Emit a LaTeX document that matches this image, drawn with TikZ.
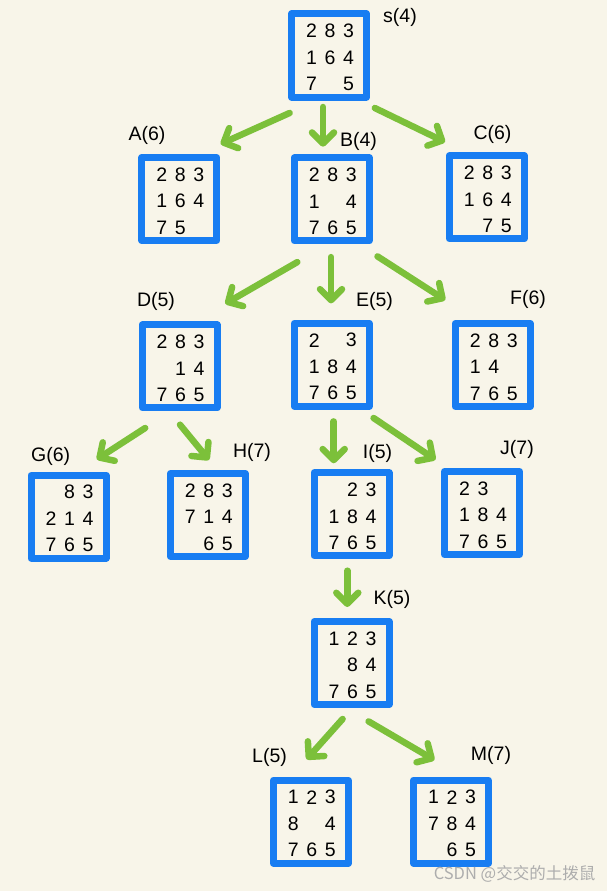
\documentclass[tikz,border=0pt]{standalone}
\usepackage{fontspec}
\setmainfont{Liberation Sans}
\newfontfamily\cjk{Noto Sans CJK SC}
\usetikzlibrary{arrows.meta}

\definecolor{paper}{RGB}{248,245,233}
\definecolor{boxblue}{RGB}{24,125,242}
\definecolor{arrgreen}{RGB}{124,192,58}

\tikzset{
  board/.style={draw=boxblue, line width=7pt, line join=round, minimum width=75pt, minimum height=83pt, inner sep=0pt},
  digit/.style={font=\fontsize{19.5}{19.5}\selectfont, inner sep=0pt},
  tag/.style={font=\fontsize{19.5}{19.5}\selectfont, inner sep=0pt},
  arr/.style={draw=arrgreen, line width=6.5pt, line cap=round, -{Straight Barb[length=11pt,width=22pt,round]}},
}

% 3x3 tiles of one board, row by row
\newcommand{\tiles}[4]{%
  \foreach \row [count=\r from 0] in {{#2},{#3},{#4}}{%
    \foreach \d [count=\c from 0] in \row{%
      \node[digit] (#1\r\c) at ([shift={(\c*18.5-17.5,\r*26.5-24.5)}]#1.center) {\d};}}}

\begin{document}
\begin{tikzpicture}[x=1pt,y=-1pt]
\fill[paper] (0,0) rectangle (607,891);

% boards
\node[board] (s) at (329,55.5) {};
\node[board] (A) at (179.3,199) {};
\node[board] (B) at (331.7,199.4) {};
\node[board] (C) at (486.7,197.3) {};
\node[board] (D) at (179.6,366.4) {};
\node[board] (E) at (331.7,364.7) {};
\node[board] (F) at (492.7,365) {};
\node[board] (G) at (68.5,516.7) {};
\node[board] (H) at (207.8,515) {};
\node[board] (I) at (351.5,514.3) {};
\node[board] (J) at (482,513) {};
\node[board] (K) at (351.5,663) {};
\node[board] (L) at (310.9,821.7) {};
\node[board] (M) at (451,821.7) {};

\tiles{s}{2,8,3}{1,6,4}{7,{},5}
\tiles{A}{2,8,3}{1,6,4}{7,5,{}}
\tiles{B}{2,8,3}{1,{},4}{7,6,5}
\tiles{C}{2,8,3}{1,6,4}{{},7,5}
\tiles{D}{2,8,3}{{},1,4}{7,6,5}
\tiles{E}{2,{},3}{1,8,4}{7,6,5}
\tiles{F}{2,8,3}{1,4,{}}{7,6,5}
\tiles{G}{{},8,3}{2,1,4}{7,6,5}
\tiles{H}{2,8,3}{7,1,4}{{},6,5}
\tiles{I}{{},2,3}{1,8,4}{7,6,5}
\tiles{J}{2,3,{}}{1,8,4}{7,6,5}
\tiles{K}{1,2,3}{{},8,4}{7,6,5}
\tiles{L}{1,2,3}{8,{},4}{7,6,5}
\tiles{M}{1,2,3}{7,8,4}{{},6,5}

% labels f = g + h
\node[tag] (sTag) at (400,17.5) {s(4)};
\node[tag] (ATag) at (147,135.5) {A(6)};
\node[tag] (BTag) at (358.5,141) {B(4)};
\node[tag] (CTag) at (492.5,134) {C(6)};
\node[tag] (DTag) at (156,301) {D(5)};
\node[tag] (ETag) at (374.5,301) {E(5)};
\node[tag] (FTag) at (528,299) {F(6)};
\node[tag] (GTag) at (50.7,456) {G(6)};
\node[tag] (HTag) at (252,452) {H(7)};
\node[tag] (ITag) at (377.5,453) {I(5)};
\node[tag] (JTag) at (517,449) {J(7)};
\node[tag] (KTag) at (392,599) {K(5)};
\node[tag] (LTag) at (269.5,757) {L(5)};
\node[tag] (MTag) at (491,755) {M(7)};

% expansions
\draw[arr] ([shift={(-39.4,12.5)}]s.south) -- ([shift={(41.4,-10)}]A.north);
\draw[arr] ([shift={(-6,6.5)}]s.south) -- ([shift={(-8.7,-7.7)}]B.north);
\draw[arr] ([shift={(45.8,7.5)}]s.south) -- ([shift={(-41.7,-10.3)}]C.north);
\draw[arr] ([shift={(-34.4,17.7)}]B.south) -- ([shift={(45.7,-17.7)}]D.north);
\draw[arr] ([shift={(-0.7,12.7)}]B.south) -- ([shift={(-0.7,-16.3)}]E.north);
\draw[arr] ([shift={(45.8,12)}]B.south) -- ([shift={(-47.5,-20)}]F.north);
\draw[arr] ([shift={(-34.4,16.6)}]D.south) -- ([shift={(28.3,-12.4)}]G.north);
\draw[arr] ([shift={(0.4,13.3)}]D.south) -- ([shift={(1.2,-10)}]H.north);
\draw[arr] ([shift={(2,11.7)}]E.south) -- ([shift={(-17.8,-6)}]I.north);
\draw[arr] ([shift={(41.9,8.3)}]E.south) -- ([shift={(-46.5,-8.3)}]J.north);
\draw[arr] ([shift={(-4.2,11.4)}]I.south) -- ([shift={(-4.2,-11)}]K.north);
\draw[arr] ([shift={(-8.9,11)}]K.south) -- ([shift={(-4.3,-17.4)}]L.north);
\draw[arr] ([shift={(17.1,13.4)}]K.south) -- ([shift={(-16.6,-16.7)}]M.north);

\node[font=\cjk\fontsize{16.5}{16.5}\selectfont, text=black!32, inner sep=0pt] (mark) at (514.5,874) {CSDN @交交的土拨鼠};
\end{tikzpicture}
\end{document}
